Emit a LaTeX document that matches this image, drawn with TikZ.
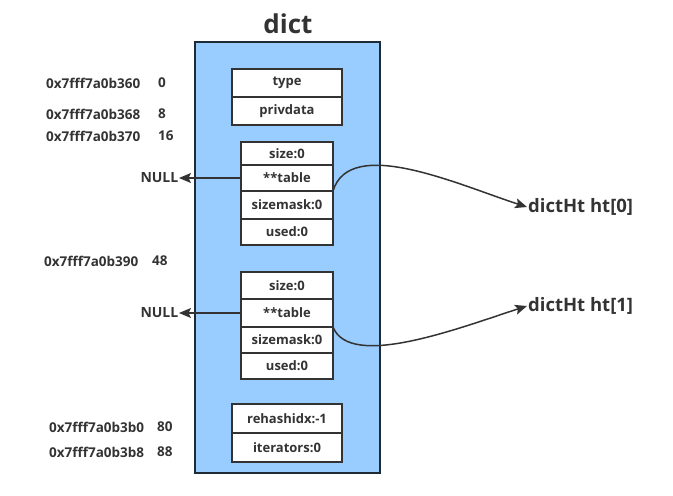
\documentclass[tikz,border=0pt]{standalone}
\usepackage{fontspec}
\setmainfont{Open Sans}
\usetikzlibrary{positioning,arrows.meta}
\definecolor{dictblue}{HTML}{99CCFF}
\definecolor{ink}{HTML}{333333}
\definecolor{rim}{HTML}{1E2B37}

\begin{document}
\begin{tikzpicture}[x=1pt,y=-1pt,
    field/.style={draw=ink, fill=white, line width=1.5pt, inner sep=0pt, outer sep=0pt,
      text=ink, font=\fontsize{13}{15}\selectfont\bfseries},
    wide/.style={field, minimum width=110pt},
    narrow/.style={field, minimum width=92pt},
    addr/.style={anchor=west, inner sep=0pt, text=ink, font=\fontsize{13.5}{15}\selectfont\bfseries},
    nullname/.style={anchor=east, inner sep=0.5pt, text=ink, font=\fontsize{14}{16}\selectfont\bfseries},
    target/.style={anchor=west, inner sep=1pt, text=ink, font=\fontsize{18.5}{20}\selectfont\bfseries},
    ptr/.style={draw=ink, line width=1.5pt, -{Stealth[length=12pt,width=10pt,inset=2.5pt]}}]
  \useasboundingbox (0,0) rectangle (673,496);

  % Struct frame
  \node[draw=rim, fill=dictblue, line width=1.5pt, minimum width=185pt, minimum height=431pt,
    inner sep=0pt] (d) at (287.5,257.5) {};
  \node[text=ink, font=\fontsize{26}{28}\selectfont\bfseries] (dt) at (288,24) {dict};

  % Fields
  \node[wide, minimum height=28pt] (ty) at (287,83) {type};
  \node[wide, minimum height=28pt, below=0pt of ty] (pd) {privdata};

  \node[narrow, minimum height=23pt] (s0) at (287,153.5) {size:0};
  \node[narrow, minimum height=26pt, below=0pt of s0] (t0) {**table};
  \node[narrow, minimum height=28pt, below=0pt of t0] (m0) {sizemask:0};
  \node[narrow, minimum height=26pt, below=0pt of m0] (u0) {used:0};

  \node[narrow, minimum height=27pt] (s1) at (287,285.5) {size:0};
  \node[narrow, minimum height=28pt, below=0pt of s1] (t1) {**table};
  \node[narrow, minimum height=26pt, below=0pt of t1] (m1) {sizemask:0};
  \node[narrow, minimum height=26pt, below=0pt of m1] (u1) {used:0};

  \node[wide, minimum height=29pt] (rh) at (287,418.5) {rehashidx:-1};
  \node[wide, minimum height=29pt, below=0pt of rh] (it) {iterators:0};

  % Addresses
  \node[addr] (a0) at (46,83) {0x7fff7a0b360};   \node[addr] (o0) at (158,83) {0};
  \node[addr] (a1) at (46,114) {0x7fff7a0b368};  \node[addr] (o1) at (158,114) {8};
  \node[addr] (a2) at (46,136) {0x7fff7a0b370};  \node[addr] (o2) at (158,136) {16};
  \node[addr] (a3) at (44,261) {0x7fff7a0b390};  \node[addr] (o3) at (152,261) {48};
  \node[addr] (a4) at (49,427) {0x7fff7a0b3b0};  \node[addr] (o4) at (157,427) {80};
  \node[addr] (a5) at (49,452) {0x7fff7a0b3b8};  \node[addr] (o5) at (157,452) {88};

  % Pointers
  \node[nullname] (n0) at (179,178) {NULL};
  \node[nullname] (n1) at (179,313) {NULL};
  \node[target] (h0) at (527,207) {dictHt ht[0]};
  \node[target] (h1) at (527,306) {dictHt ht[1]};

  \draw[ptr] (t0.west) -- (n0.east);
  \draw[ptr] (t1.west) -- (n1.east);
  \draw[ptr] (t0.south east) .. controls +(17,-56) and +(-68,-22) .. (h0.west);
  \draw[ptr] (t1.south east) .. controls +(17,43) and +(-68,22) .. (h1.west);
\end{tikzpicture}
\end{document}
